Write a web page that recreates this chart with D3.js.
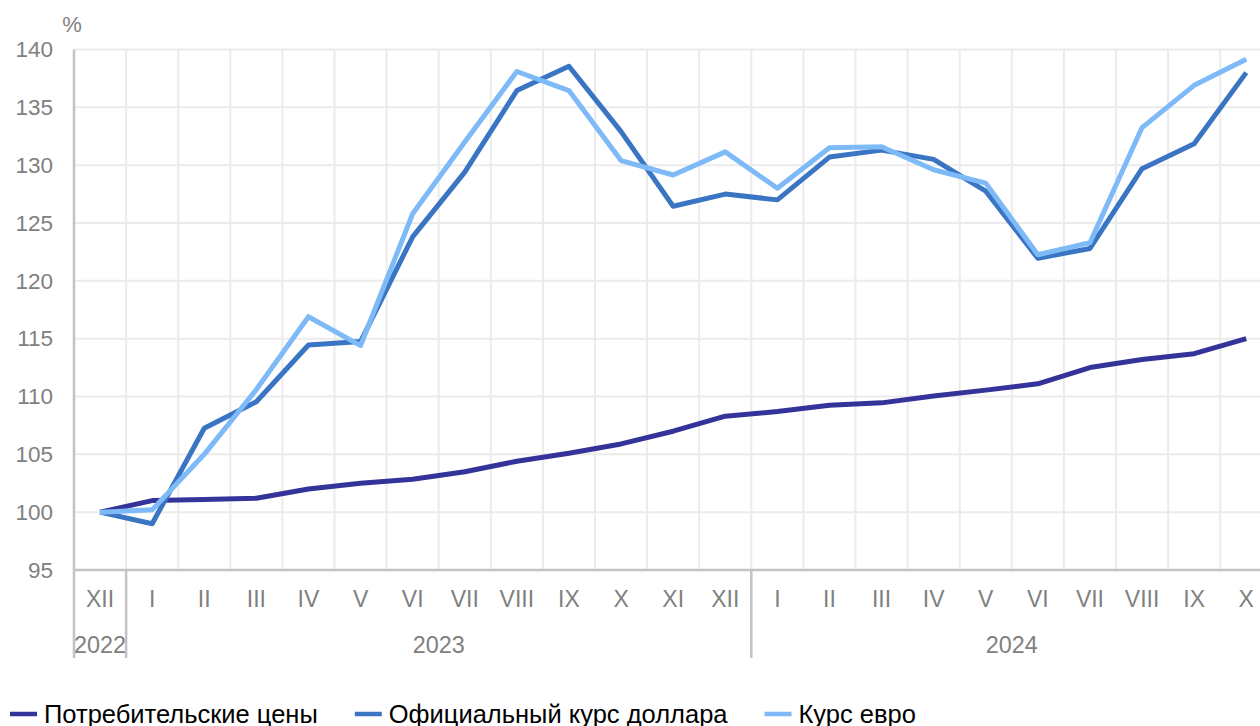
<!DOCTYPE html>
<html>
<head>
<meta charset="utf-8">
<title>Цены и курсы валют</title>
<script src="https://d3js.org/d3.v7.min.js"></script>
<style>
  body { margin: 0; background: #fff; }
  text { font-family: "Liberation Sans", Arial, sans-serif; }
</style>
</head>
<body>
<div id="chart"></div>
<script>
// data (Dec 2022 = 100)
var months = ["XII", "I", "II", "III", "IV", "V", "VI", "VII", "VIII", "IX", "X", "XI", "XII",
              "I", "II", "III", "IV", "V", "VI", "VII", "VIII", "IX", "X"];
var years = [
  { label: "2022", from: 0, to: 1 },
  { label: "2023", from: 1, to: 13 },
  { label: "2024", from: 13, to: 23 }
];
var cpi = [100, 101.0, 101.1, 101.2, 102.0, 102.5, 102.85, 103.5, 104.4, 105.1, 105.9, 107.0, 108.3,
           108.7, 109.25, 109.45, 110.05, 110.55, 111.1, 112.5, 113.2, 113.7, 115.0];
var usd = [100, 99.0, 107.25, 109.55, 114.45, 114.75, 123.8, 129.4, 136.45, 138.55, 132.9, 126.45, 127.5,
           127.0, 130.7, 131.3, 130.5, 127.75, 121.95, 122.8, 129.7, 131.85, 138.0];
var eur = [100, 100.2, 105.0, 110.6, 116.9, 114.4, 125.8, 132.0, 138.1, 136.45, 130.4, 129.15, 131.15,
           128.0, 131.5, 131.6, 129.6, 128.45, 122.25, 123.3, 133.25, 136.9, 139.15];
var yTicks = [95, 100, 105, 110, 115, 120, 125, 130, 135, 140];
var seriesNames = ["Потребительские цены", "Официальный курс доллара", "Курс евро"];
var seriesColors = ["#333399", "#3a75c4", "#7dbaf7"];

var W = 1260, H = 726;
var plotLeft = 74, plotTop = 49.5, plotBottom = 570, step = 52.1;
var idx = d3.range(months.length);

var svg = d3.select("#chart").append("svg")
  .attr("width", W).attr("height", H);

var x = d3.scaleBand().domain(idx).range([plotLeft, plotLeft + step * months.length]).padding(0);
var y = d3.scaleLinear().domain([95, 140]).range([plotBottom, plotTop]);
var cx = function(i) { return x(i) + x.bandwidth() / 2; };

// grid
svg.append("g").selectAll("line")
  .data(yTicks.filter(function(d) { return d > 95; }))
  .enter().append("line")
  .attr("x1", plotLeft).attr("x2", W)
  .attr("y1", function(d) { return y(d); }).attr("y2", function(d) { return y(d); })
  .attr("stroke", "#ebebeb").attr("stroke-width", 2);

svg.append("g").selectAll("line")
  .data(idx.slice(1))
  .enter().append("line")
  .attr("x1", function(i) { return x(i); }).attr("x2", function(i) { return x(i); })
  .attr("y1", plotTop).attr("y2", plotBottom)
  .attr("stroke", "#ebebeb").attr("stroke-width", 2);

// y axis labels
var yAxis = svg.append("g")
  .attr("transform", "translate(" + plotLeft + ",0)")
  .call(d3.axisLeft(y).tickValues(yTicks).tickSize(0).tickPadding(21));
yAxis.select(".domain").remove();
yAxis.selectAll("text")
  .attr("font-size", 22.5).attr("fill", "#808080")
  .attr("font-family", "Liberation Sans, Arial, sans-serif");

svg.append("text")
  .attr("x", 72).attr("y", 32)
  .attr("text-anchor", "middle")
  .attr("font-size", 22).attr("fill", "#808080")
  .text("%");

// axis lines
svg.append("line")
  .attr("x1", plotLeft).attr("x2", W).attr("y1", plotBottom).attr("y2", plotBottom)
  .attr("stroke", "#c3c3c3").attr("stroke-width", 2.5);
svg.append("line")
  .attr("x1", plotLeft).attr("x2", plotLeft).attr("y1", plotTop).attr("y2", 658)
  .attr("stroke", "#c3c3c3").attr("stroke-width", 2.5);

// month labels
var xAxis = svg.append("g")
  .attr("transform", "translate(0," + plotBottom + ")")
  .call(d3.axisBottom(x).tickSize(0).tickPadding(20.5).tickFormat(function(i) { return months[i]; }));
xAxis.select(".domain").remove();
xAxis.selectAll("text")
  .attr("font-size", 23).attr("fill", "#808080")
  .attr("font-family", "Liberation Sans, Arial, sans-serif");

// year dividers and labels
svg.append("g").selectAll("line")
  .data(years.slice(1))
  .enter().append("line")
  .attr("x1", function(d) { return x(d.from); }).attr("x2", function(d) { return x(d.from); })
  .attr("y1", plotBottom).attr("y2", 658)
  .attr("stroke", "#c3c3c3").attr("stroke-width", 2.5);

svg.append("g").selectAll("text")
  .data(years)
  .enter().append("text")
  .attr("x", function(d) {
    var a = x(d.from), b = d.to >= months.length ? x(d.to - 1) + x.bandwidth() : x(d.to);
    return (a + b) / 2;
  })
  .attr("y", 653)
  .attr("text-anchor", "middle")
  .attr("font-size", 23.4).attr("fill", "#808080")
  .text(function(d) { return d.label; });

// lines
var line = d3.line()
  .x(function(d, i) { return cx(i); })
  .y(function(d) { return y(d); });

var allSeries = [cpi, usd, eur];
svg.append("g").selectAll("path")
  .data(allSeries)
  .enter().append("path")
  .attr("d", function(d) { return line(d); })
  .attr("fill", "none")
  .attr("stroke", function(d, i) { return seriesColors[i]; })
  .attr("stroke-width", 5)
  .attr("stroke-linejoin", "round");

// legend
var lg = svg.append("g").attr("transform", "translate(0,714)");
var lx = 10;
seriesNames.forEach(function(name, i) {
  lg.append("line")
    .attr("x1", lx).attr("x2", lx + 27).attr("y1", 0).attr("y2", 0)
    .attr("stroke", seriesColors[i]).attr("stroke-width", 4.5);
  var t = lg.append("text")
    .attr("x", lx + 34).attr("y", 8.5)
    .attr("font-size", 25.5).attr("fill", "#000")
    .text(name);
  lx += 34 + t.node().getComputedTextLength() + 37;
});
</script>
</body>
</html>
